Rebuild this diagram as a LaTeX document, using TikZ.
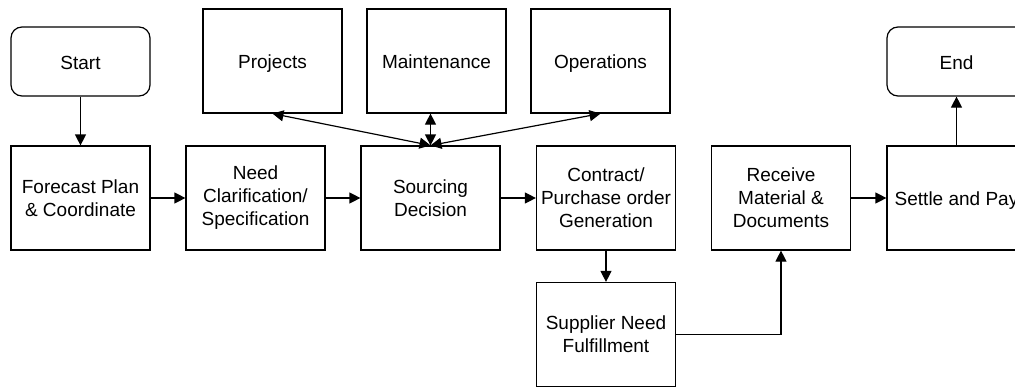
\documentclass[tikz,border=0pt]{standalone}
\usepackage{fontspec}
\setmainfont{Liberation Sans}
\usetikzlibrary{arrows.meta}
\begin{document}
\begin{tikzpicture}[x=1pt,y=-1pt,
  box/.style={draw, line width=1.2pt, minimum width=139pt, minimum height=104pt, align=center, inner sep=0pt, font=\fontsize{19}{23}\selectfont},
  onebox/.style={box, text height=15.6pt, text depth=0pt},
  term/.style={onebox, minimum height=69pt, rounded corners=11pt},
  conn/.style={line width=1.2pt, -{Triangle[length=11pt,width=11pt]}},
  bconn/.style={line width=1.2pt, {Triangle[length=11pt,width=11pt]}-{Triangle[length=11pt,width=11pt]}}]
\useasboundingbox (0,0) rectangle (1015,388);
\clip (0,0) rectangle (1015,388);
\node[term] (start) at (80.5,61.5) {Start};
\node[box] (forecast) at (80.5,198) {Forecast Plan\\\& Coordinate};
\node[box] (need) at (255.5,198) {Need\\Clarification/\\Specification};
\node[onebox] (proj) at (272.5,61) {Projects};
\node[onebox] (maint) at (436.5,61) {Maintenance};
\node[onebox] (oper) at (600.5,61) {Operations};
\node[box] (src) at (430.5,198) {Sourcing\\Decision};
\node[box] (contract) at (606,198) {Contract/\\Purchase order\\Generation};
\node[box] (supplier) at (606,334.5) {Supplier Need\\Fulfillment};
\node[box] (receive) at (781,198) {Receive\\Material \&\\Documents};
\node[onebox] (settle) at (956.5,198) {Settle and Pay};
\node[term] (end) at (956.5,61.5) {End};
\draw[conn] (start) -- (forecast);
\draw[conn] (forecast) -- (need);
\draw[conn] (need) -- (src);
\draw[conn] (src) -- (contract);
\draw[conn] (contract) -- (supplier);
\draw[conn] (supplier.east) -| (receive.south);
\draw[conn] (receive) -- (settle);
\draw[conn] (settle) -- (end);
\draw[bconn] (src.north) -- (proj.south);
\draw[bconn] (src.north) -- (src.north |- maint.south);
\draw[bconn] (src.north) -- (oper.south);
\end{tikzpicture}
\end{document}
